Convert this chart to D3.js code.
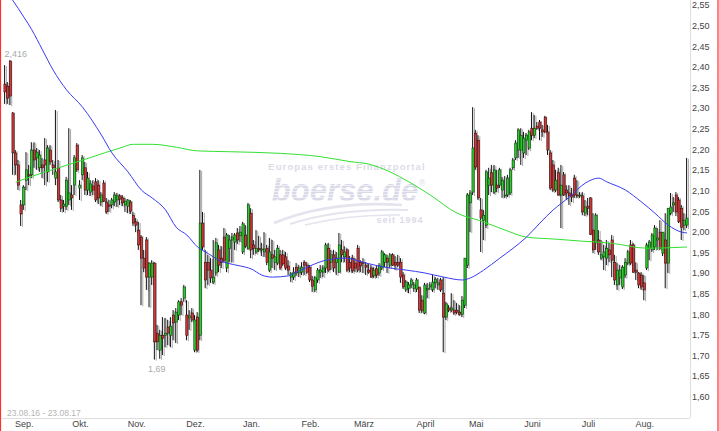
<!DOCTYPE html>
<html>
<head>
<meta charset="utf-8">
<script src="https://cdn.jsdelivr.net/npm/d3@7"></script>
<style>
  body { margin: 0; background: #fff; }
  svg { display: block; font-family: "Liberation Sans", Arial, sans-serif; }
</style>
</head>
<body>
<div id="chart"></div>
<script>
// daily candles, one array per month, rows are [open, high, low, close]
const aug16 = [
  [2.358,2.404,2.310,2.339],[2.353,2.363,2.310,2.324],[2.414,2.416,2.307,2.329],[2.288,2.290,2.138,2.191],
  [2.191,2.198,2.138,2.162],[2.162,2.174,2.101,2.113],[2.065,2.077,2.014,2.043]
];
const sep16 = [
  [2.065,2.113,2.053,2.108],[2.125,2.193,2.101,2.150],[2.138,2.162,2.113,2.135],[2.138,2.217,2.130,2.198],
  [2.198,2.217,2.155,2.174],[2.179,2.203,2.150,2.193],[2.155,2.198,2.145,2.186],[2.162,2.179,2.130,2.155],
  [2.174,2.227,2.113,2.162],[2.145,2.210,2.121,2.203],[2.198,2.210,2.162,2.169],[2.162,2.174,2.138,2.155],
  [2.130,2.295,2.113,2.145],[2.155,2.174,2.072,2.077],[2.077,2.089,2.048,2.057],[2.062,2.077,2.048,2.067],
  [2.062,2.133,2.053,2.125],[2.077,2.251,2.065,2.094],[2.089,2.113,2.053,2.082],[2.113,2.186,2.089,2.179],
  [2.210,2.215,2.145,2.150]
];
const okt16 = [
  [2.106,2.125,2.077,2.113],[2.138,2.186,2.125,2.179],[2.155,2.169,2.089,2.101],[2.101,2.145,2.089,2.130],
  [2.096,2.125,2.087,2.116],[2.111,2.125,2.089,2.101],[2.121,2.130,2.072,2.077],[2.113,2.125,2.067,2.082],
  [2.072,2.096,2.062,2.089],[2.118,2.125,2.072,2.074],[2.072,2.082,2.043,2.048],[2.065,2.077,2.048,2.062],
  [2.065,2.082,2.057,2.077],[2.072,2.096,2.062,2.089],[2.077,2.094,2.060,2.087],[2.087,2.091,2.065,2.079],
  [2.082,2.089,2.062,2.070],[2.065,2.082,2.048,2.074],[2.062,2.079,2.045,2.077],[2.072,2.077,2.043,2.050],
  [2.040,2.048,2.014,2.021]
];
const nov16 = [
  [2.024,2.033,1.999,2.016],[2.004,2.024,1.956,1.968],[1.987,1.992,1.822,1.936],[1.936,1.956,1.902,1.912],
  [1.980,1.987,1.859,1.890],[1.890,1.926,1.817,1.924],[1.890,1.931,1.871,1.924],[1.924,1.926,1.690,1.733],
  [1.754,1.774,1.713,1.733],[1.713,1.762,1.692,1.749],[1.749,1.793,1.701,1.742],[1.749,1.791,1.720,1.754],
  [1.769,1.786,1.725,1.754],[1.749,1.793,1.720,1.771],[1.798,1.810,1.737,1.779],[1.781,1.815,1.730,1.805],
  [1.798,1.834,1.786,1.830],[1.830,1.839,1.798,1.822],[1.839,1.871,1.830,1.866],[1.798,1.834,1.737,1.749],
  [1.791,1.810,1.762,1.796],[1.803,1.815,1.781,1.786]
];
const dez16 = [
  [1.713,1.798,1.708,1.786],[1.793,1.805,1.708,1.713],[1.749,2.150,1.737,2.021],[2.021,2.048,1.956,1.963],
  [1.926,1.956,1.863,1.883],[1.926,1.944,1.871,1.907],[1.907,1.936,1.876,1.888],[1.878,1.980,1.873,1.890],
  [1.900,1.985,1.893,1.973],[1.956,1.968,1.902,1.919],[1.936,1.965,1.912,1.926],[1.987,2.009,1.926,1.931],
  [1.912,1.997,1.902,1.992],[1.960,1.992,1.926,1.980],[1.980,1.997,1.926,1.987],[1.975,1.997,1.956,1.992],
  [1.997,2.009,1.970,1.980],[1.990,2.014,1.975,1.999],[1.951,2.024,1.946,2.019],[1.992,2.016,1.960,1.965],
  [1.960,2.070,1.956,2.065]
];
const jan17 = [
  [2.045,2.057,1.936,1.956],[1.968,1.980,1.944,1.960],[1.951,2.004,1.946,1.960],[1.960,1.990,1.951,1.956],
  [1.956,1.973,1.941,1.958],[1.951,1.999,1.939,1.958],[1.960,1.968,1.919,1.926],[1.907,1.985,1.902,1.951],
  [1.944,1.980,1.912,1.936],[1.926,1.956,1.907,1.939],[1.924,1.968,1.919,1.960],[1.944,1.956,1.907,1.912],
  [1.944,1.956,1.917,1.922],[1.939,1.951,1.907,1.912],[1.917,1.931,1.895,1.907],[1.890,1.902,1.878,1.898],
  [1.890,1.914,1.883,1.902],[1.914,1.924,1.893,1.900],[1.900,1.919,1.890,1.912],[1.902,1.926,1.895,1.914],
  [1.926,1.931,1.895,1.919],[1.919,1.926,1.898,1.902]
];
const feb17 = [
  [1.914,1.919,1.878,1.883],[1.883,1.893,1.854,1.868],[1.859,1.893,1.854,1.888],[1.883,1.912,1.876,1.907],
  [1.902,1.919,1.888,1.907],[1.902,1.919,1.890,1.912],[1.912,1.973,1.900,1.968],[1.960,1.973,1.902,1.907],
  [1.926,1.956,1.907,1.944],[1.944,1.956,1.902,1.912],[1.926,1.951,1.895,1.936],[1.902,1.997,1.900,1.968],
  [1.956,1.980,1.926,1.944],[1.939,1.965,1.926,1.951],[1.956,1.960,1.902,1.907],[1.926,1.941,1.902,1.912],
  [1.936,1.944,1.900,1.905],[1.924,1.936,1.902,1.912],[1.960,1.968,1.902,1.907],[1.926,1.931,1.902,1.917]
];
const mar17 = [
  [1.926,1.936,1.900,1.924],[1.919,1.926,1.895,1.914],[1.907,1.922,1.898,1.902],[1.912,1.919,1.888,1.890],
  [1.893,1.914,1.888,1.907],[1.910,1.919,1.888,1.895],[1.900,1.924,1.893,1.917],[1.912,1.956,1.907,1.951],
  [1.926,1.948,1.914,1.944],[1.936,1.944,1.900,1.926],[1.919,1.948,1.912,1.944],[1.944,1.948,1.917,1.919],
  [1.926,1.941,1.907,1.919],[1.926,1.944,1.914,1.919],[1.926,1.936,1.876,1.890],[1.895,1.902,1.861,1.866],
  [1.859,1.883,1.854,1.878],[1.863,1.878,1.851,1.871],[1.871,1.888,1.863,1.883],[1.863,1.878,1.854,1.871],
  [1.861,1.888,1.854,1.883],[1.866,1.866,1.803,1.810],[1.834,1.846,1.803,1.808]
];
const apr17 = [
  [1.803,1.876,1.800,1.871],[1.859,1.876,1.839,1.863],[1.866,1.878,1.859,1.871],[1.859,1.895,1.854,1.878],
  [1.876,1.890,1.863,1.885],[1.871,1.888,1.859,1.876],[1.883,1.888,1.854,1.859],[1.851,1.890,1.708,1.793],
  [1.793,1.830,1.786,1.825],[1.815,1.822,1.805,1.810],[1.810,1.851,1.805,1.815],[1.810,1.834,1.798,1.803],
  [1.810,1.827,1.800,1.805],[1.805,1.822,1.796,1.800],[1.800,1.844,1.793,1.834],[1.822,1.936,1.815,1.936],
  [1.919,2.094,1.912,2.089],[2.070,2.101,1.999,2.094],[2.096,2.302,2.089,2.203]
];
const mai17 = [
  [2.239,2.247,2.150,2.157],[2.222,2.234,2.077,2.082],[2.053,2.082,1.951,2.033],[2.028,2.053,1.980,2.040],
  [2.016,2.150,2.009,2.145],[2.113,2.155,2.089,2.130],[2.143,2.162,2.096,2.113],[2.096,2.162,2.091,2.150],
  [2.113,2.150,2.096,2.106],[2.113,2.155,2.106,2.150],[2.101,2.133,2.082,2.125],[2.087,2.135,2.082,2.089],
  [2.089,2.138,2.084,2.130],[2.094,2.155,2.089,2.150],[2.155,2.179,2.150,2.174],[2.179,2.222,2.174,2.215],
  [2.198,2.251,2.179,2.247],[2.198,2.251,2.162,2.234],[2.191,2.242,2.179,2.227],[2.222,2.239,2.186,2.234],
  [2.203,2.247,2.198,2.242]
];
const jun17 = [
  [2.251,2.290,2.222,2.234],[2.234,2.283,2.227,2.251],[2.256,2.266,2.247,2.251],[2.266,2.271,2.222,2.251],
  [2.247,2.259,2.230,2.242],[2.278,2.281,2.239,2.242],[2.242,2.259,2.186,2.198],[2.191,2.198,2.101,2.106],
  [2.162,2.174,2.096,2.101],[2.101,2.150,2.096,2.125],[2.143,2.155,2.087,2.089],[2.089,2.162,2.009,2.113],
  [2.138,2.145,2.087,2.089],[2.101,2.113,2.077,2.094],[2.094,2.113,2.065,2.087],[2.089,2.106,2.072,2.084],
  [2.130,2.138,2.082,2.089],[2.089,2.125,2.082,2.087],[2.087,2.096,2.082,2.089],[2.087,2.096,2.040,2.048],
  [2.045,2.077,2.038,2.060]
];
const jul17 = [
  [2.062,2.082,2.040,2.057],[2.082,2.084,1.992,1.994],[2.004,2.045,1.948,1.956],[1.973,2.045,1.956,2.040],
  [1.980,2.004,1.944,1.951],[1.936,1.980,1.931,1.944],[1.939,1.968,1.907,1.951],[1.936,1.980,1.919,1.960],
  [1.956,1.973,1.926,1.944],[1.980,1.992,1.890,1.931],[1.926,1.944,1.871,1.883],[1.871,1.924,1.859,1.907],
  [1.888,1.919,1.871,1.907],[1.866,1.919,1.861,1.914],[1.895,1.936,1.888,1.926],[1.924,1.956,1.919,1.951],
  [1.968,1.980,1.919,1.924],[1.968,1.973,1.900,1.902],[1.907,1.926,1.883,1.902],[1.900,1.902,1.863,1.871],
  [1.895,1.902,1.859,1.866]
];
const aug17 = [
  [1.876,1.895,1.834,1.859],[1.912,1.973,1.907,1.968],[1.960,1.980,1.931,1.975],[1.956,1.997,1.951,1.992],
  [1.963,2.016,1.956,2.009],[1.980,2.009,1.956,1.985],[1.999,2.028,1.956,1.960],[1.948,1.999,1.941,1.999],
  [1.980,2.045,1.863,1.924],[1.924,2.057,1.900,2.057],[2.045,2.094,2.040,2.060],[2.065,2.084,2.048,2.070],
  [2.089,2.096,2.038,2.048],[2.077,2.084,2.021,2.024],[2.057,2.065,1.980,2.011],[2.016,2.045,2.004,2.028],
  [2.016,2.179,2.009,2.033]
];

const candleMonths = [aug16, sep16, okt16, nov16, dez16, jan17, feb17, mar17, apr17, mai17, jun17, jul17, aug17];
// label for every month after the first (partial) one
const monthLabels = ["Sep.", "Okt.", "Nov.", "Dez.", "Jan.", "Feb.", "März", "April", "Mai", "Juni", "Juli", "Aug."];

// moving averages: [day index, value]
const maBlue = [
  [0,2.585],[3,2.56],[7,2.521],[10,2.49],[14,2.441],[18,2.392],[23,2.344],[29,2.302],[36,2.235],[40,2.191],
  [46,2.145],[51,2.101],[55,2.082],[60,2.053],[64,2.011],[68,1.992],[72,1.963],[76,1.947],[80,1.931],[83,1.924],
  [88,1.917],[92,1.910],[96,1.895],[100,1.890],[106,1.893],[109,1.902],[114,1.917],[120,1.931],[127,1.936],
  [135,1.924],[142,1.914],[150,1.907],[157,1.900],[164,1.890],[171,1.883],[174,1.888],[179,1.907],[185,1.936],
  [190,1.960],[195,1.987],[200,2.021],[205,2.053],[211,2.084],[217,2.118],[222,2.130],[225,2.121],[232,2.101],
  [238,2.072],[243,2.045],[248,2.016],[253,1.999],[255,1.997]
];
const maGreen = [
  [4,2.120],[9,2.132],[21,2.157],[32,2.180],[43,2.203],[48,2.212],[55,2.212],[64,2.205],[72,2.196],[84,2.194],
  [103,2.190],[118,2.182],[129,2.170],[136,2.164],[144,2.145],[151,2.121],[159,2.089],[169,2.045],[178,2.026],
  [187,2.004],[195,1.987],[206,1.982],[216,1.977],[227,1.972],[240,1.960],[255,1.963]
];

const yTicks = [1.60,1.65,1.70,1.75,1.80,1.85,1.90,1.95,2.00,2.05,2.10,2.15,2.20,2.25,2.30,2.35,2.40,2.45,2.50,2.55];
const rangeLabel = "23.08.16 - 23.08.17";

// flatten candles, remember where each month starts
const candles = [];
const monthStarts = [];
candleMonths.forEach((m, mi) => {
  if (mi > 0) monthStarts.push(candles.length);
  m.forEach(r => candles.push({i: candles.length, o: r[0], h: r[1], l: r[2], c: r[3]}));
});

const W = 719, H = 431;
const plot = {left: 2, right: 690, top: 0, bottom: 418};

const x = d3.scaleLinear().domain([0, candles.length - 1]).range([5, 687]);
const y = d3.scaleLinear().domain([1.60, 2.55]).range([396.7, 4.9]);

const de = d3.formatLocale({decimal: ",", thousands: ".", grouping: [3], currency: ["", " €"]});
const fmt2 = de.format(".2f");
const fmt3 = de.format(".3f");

const svg = d3.select("#chart").append("svg")
  .attr("width", W)
  .attr("height", H);

const defs = svg.append("defs");
defs.append("clipPath").attr("id", "plotClip")
  .append("rect")
  .attr("x", plot.left).attr("y", plot.top)
  .attr("width", plot.right - plot.left).attr("height", plot.bottom - plot.top);

// striped fill for the watermark logo
const pat = defs.append("pattern").attr("id", "stripes")
  .attr("patternUnits", "userSpaceOnUse").attr("width", 8).attr("height", 3);
pat.append("rect").attr("width", 8).attr("height", 3).attr("fill", "#d9d9e8");
pat.append("rect").attr("y", 2.2).attr("width", 8).attr("height", 0.8).attr("fill", "#f4f4f8");

// watermark
const wm = svg.append("g");
wm.append("text")
  .attr("x", 347).attr("y", 169.5)
  .attr("text-anchor", "middle")
  .attr("font-size", 9.5).attr("font-weight", "bold").attr("letter-spacing", 1.1)
  .attr("fill", "#dcdce8")
  .text("Europas erstes Finanzportal");
wm.append("text")
  .attr("x", 345).attr("y", 201)
  .attr("text-anchor", "middle")
  .attr("font-size", 31).attr("font-weight", "bold").attr("font-style", "italic")
  .attr("fill", "url(#stripes)")
  .text("boerse.de");
wm.append("text")
  .attr("x", 419).attr("y", 186)
  .attr("font-size", 9)
  .attr("fill", "#dcdce8")
  .text("®");
[["M274,223 Q330,200 402,205", 2.6], ["M290,224 Q340,208 408,210", 2], ["M305,225 Q350,214 400,215", 1.5]]
  .forEach(s => {
    wm.append("path").attr("d", s[0]).attr("fill", "none")
      .attr("stroke", "#e4e4ee").attr("stroke-width", s[1]);
  });
wm.append("text")
  .attr("x", 400).attr("y", 223)
  .attr("text-anchor", "middle")
  .attr("font-size", 9).attr("font-weight", "bold").attr("letter-spacing", 1)
  .attr("fill", "#dcdce8")
  .text("seit 1994");

// plot frame
svg.append("line")
  .attr("x1", plot.left).attr("x2", plot.right)
  .attr("y1", plot.bottom + 0.5).attr("y2", plot.bottom + 0.5)
  .attr("stroke", "#dedede");
svg.append("line")
  .attr("x1", plot.right + 0.5).attr("x2", plot.right + 0.5)
  .attr("y1", 0).attr("y2", plot.bottom)
  .attr("stroke", "#dedede");

const g = svg.append("g").attr("clip-path", "url(#plotClip)");

// candles: grey shadow, black wick, coloured body
g.selectAll(".shadow")
  .data(candles)
  .join("line")
  .attr("class", "shadow")
  .attr("x1", d => x(d.i) + 1.4).attr("x2", d => x(d.i) + 1.4)
  .attr("y1", d => y(d.h) + 1).attr("y2", d => y(d.l) + 1)
  .attr("stroke", "#a8a8a8").attr("stroke-width", 1);

g.selectAll(".wick")
  .data(candles)
  .join("line")
  .attr("class", "wick")
  .attr("x1", d => x(d.i) - 0.4).attr("x2", d => x(d.i) - 0.4)
  .attr("y1", d => y(d.h)).attr("y2", d => y(d.l))
  .attr("stroke", "#111").attr("stroke-width", 1);

g.selectAll(".body")
  .data(candles)
  .join("rect")
  .attr("class", "body")
  .attr("x", d => x(d.i) - 1.1)
  .attr("width", 2.2)
  .attr("y", d => y(Math.max(d.o, d.c)))
  .attr("height", d => Math.max(1, Math.abs(y(d.o) - y(d.c))))
  .attr("fill", d => d.c >= d.o ? "#2fcc2f" : "#d23a3a")
  .attr("stroke", d => d.c >= d.o ? "#0d3a0d" : "#3a0d0d")
  .attr("stroke-width", 0.6);

// moving averages
const line = d3.line()
  .x(d => x(d[0]))
  .y(d => y(d[1]))
  .curve(d3.curveMonotoneX);

g.append("path")
  .datum(maGreen)
  .attr("d", line)
  .attr("fill", "none")
  .attr("stroke", "#33e033")
  .attr("stroke-width", 1);

g.append("path")
  .datum(maBlue)
  .attr("d", line)
  .attr("fill", "none")
  .attr("stroke", "#3a3af5")
  .attr("stroke-width", 1);

// high / low markers
const hiC = candles.reduce((a, b) => b.h > a.h ? b : a);
const loC = candles.reduce((a, b) => b.l < a.l ? b : a);
svg.append("text")
  .attr("x", x(hiC.i) + 5.5).attr("y", y(hiC.h) - 3)
  .attr("text-anchor", "middle")
  .attr("font-size", 9).attr("fill", "#aaa")
  .text(fmt3(hiC.h));
svg.append("text")
  .attr("x", x(loC.i) + 2).attr("y", y(loC.l) + 12)
  .attr("text-anchor", "middle")
  .attr("font-size", 9).attr("fill", "#aaa")
  .text(de.format(".2f")(loC.l));

svg.append("text")
  .attr("x", 7).attr("y", 416)
  .attr("font-size", 8.5).attr("fill", "#b5b5b5")
  .text(rangeLabel);

// y axis on the right
const yAxis = svg.append("g")
  .attr("transform", "translate(" + plot.right + ",0)")
  .call(d3.axisRight(y).tickValues(yTicks).tickSize(0).tickPadding(2).tickFormat(fmt2));
yAxis.select(".domain").remove();
yAxis.selectAll("text")
  .attr("font-size", 9)
  .attr("font-family", "'Liberation Sans', Arial, sans-serif")
  .attr("fill", "#444");

// month axis
const xAxis = svg.append("g")
  .attr("transform", "translate(0," + plot.bottom + ")")
  .call(d3.axisBottom(x).tickValues(monthStarts).tickSize(0).tickPadding(3)
    .tickFormat((d, i) => monthLabels[i]));
xAxis.select(".domain").remove();
xAxis.selectAll("text")
  .attr("font-size", 9)
  .attr("font-family", "'Liberation Sans', Arial, sans-serif")
  .attr("fill", "#444");

// red outer border
svg.append("line").attr("x1", 0.5).attr("x2", 0.5).attr("y1", 0).attr("y2", H)
  .attr("stroke", "#ff3030").attr("stroke-width", 1.2);
svg.append("line").attr("x1", 718).attr("x2", 718).attr("y1", 0).attr("y2", H)
  .attr("stroke", "#ff3030").attr("stroke-width", 1.2);
</script>
</body>
</html>
